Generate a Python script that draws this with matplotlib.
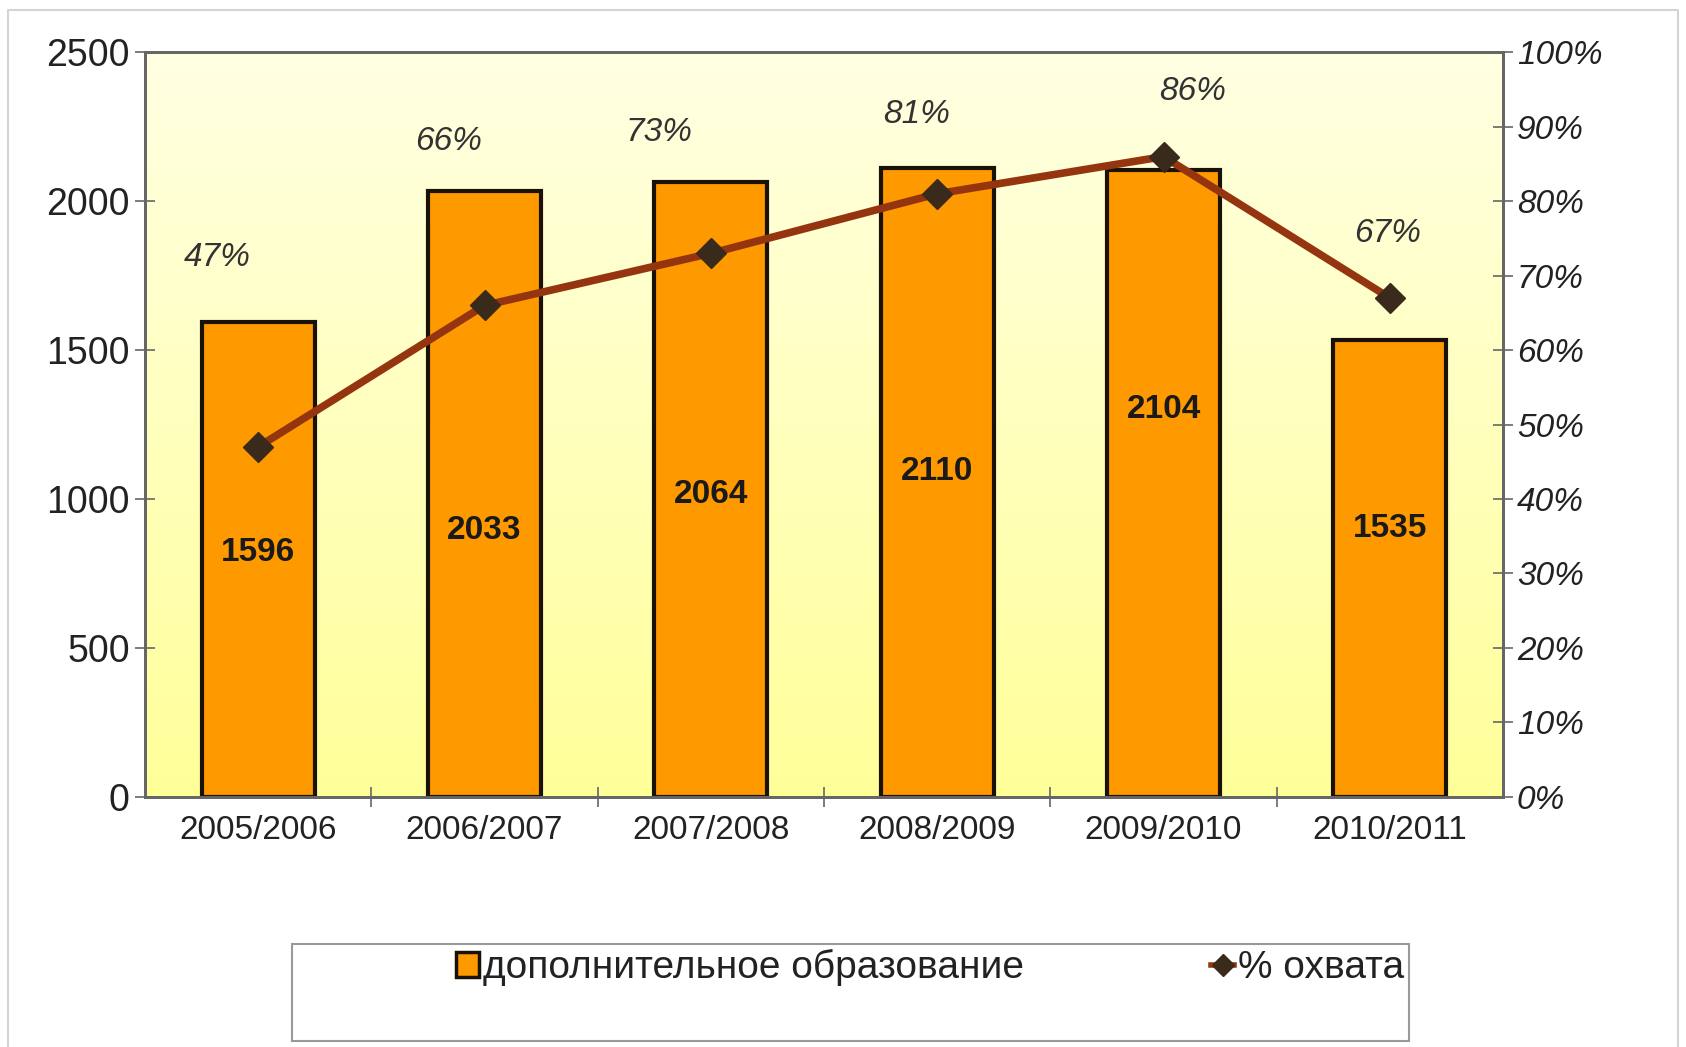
import numpy as np
import matplotlib.pyplot as plt
from matplotlib.patches import Rectangle
from matplotlib.lines import Line2D

plt.rcParams['font.family'] = ['Liberation Sans', 'DejaVu Sans']

years = ["2005/2006", "2006/2007", "2007/2008", "2008/2009", "2009/2010", "2010/2011"]
students = [1596, 2033, 2064, 2110, 2104, 1535]
coverage = [47, 66, 73, 81, 86, 67]

# label placement
count_label_y = [820, 893, 1014, 1093, 1299, 902]
pct_label_y = [72.5, 88.0, 89.2, 91.6, 94.7, 75.6]
pct_label_dx = [-0.18, -0.16, -0.23, -0.09, 0.13, -0.01]

bar_color = "#FF9900"
line_color = "#953510"
marker_color = "#3a2a1c"

fig = plt.figure(figsize=(16.86, 10.47), dpi=100)
fig.patch.set_facecolor("white")

# outer frame of the slide chart
fig.add_artist(Line2D([0.005, 0.005, 0.995, 0.995], [0.0, 0.99, 0.99, 0.0],
                      transform=fig.transFigure, color="#d4d4d4", lw=1.5))

ax = fig.add_axes([0.086, 0.239, 0.8055, 0.711])
x = np.arange(len(years))

# gradient plot area
grad = np.linspace(0, 1, 256).reshape(-1, 1)
top = np.array([1.0, 1.0, 0.89])
bottom = np.array([1.0, 1.0, 0.60])
img = top * (1 - grad[..., None]) + bottom * grad[..., None]
ax.imshow(img, extent=[-0.5, 5.5, 0, 2500], aspect="auto", zorder=0, origin="upper")

ax.bar(x, students, width=0.5, color=bar_color, edgecolor="#1a1208", linewidth=3, zorder=2)
for xi, v, ly in zip(x, students, count_label_y):
    ax.text(xi, ly, str(v), ha="center", va="center", fontsize=24, fontweight="bold",
            color="#1a1a1a", zorder=3)

ax.set_xlim(-0.5, 5.5)
ax.set_ylim(0, 2500)
ax.set_yticks(range(0, 2501, 500))
ax.set_xticks(x)
ax.set_xticklabels(years)
ax.set_xticks(np.arange(0.5, 5.5, 1), minor=True)
ax.tick_params(axis="x", which="major", length=0, labelsize=24, pad=13, colors="#222222")
ax.tick_params(axis="x", which="minor", length=14, direction="inout", color="#666666", width=1.2)
ax.tick_params(axis="y", length=14, direction="inout", labelsize=27, pad=4,
               color="#666666", width=1.2, labelcolor="#222222")
for s in ax.spines.values():
    s.set_color("#666666")
    s.set_linewidth(2)

ax2 = ax.twinx()
ax2.plot(x, coverage, color=line_color, lw=5.5, marker="D", markersize=15,
         markerfacecolor=marker_color, markeredgecolor=marker_color, zorder=5)
for xi, p, ly, dx in zip(x, coverage, pct_label_y, pct_label_dx):
    ax2.text(xi + dx, ly, f"{p}%", ha="center", va="center", fontsize=24,
             style="italic", color="#333333")
ax2.set_ylim(0, 100)
ax2.set_yticks(range(0, 101, 10))
ax2.set_yticklabels([f"{v}%" for v in range(0, 101, 10)], style="italic")
ax2.tick_params(axis="y", length=14, direction="inout", labelsize=24, pad=3,
                color="#666666", width=1.2, labelcolor="#222222")
for s in ax2.spines.values():
    s.set_color("#666666")
    s.set_linewidth(2)

# legend box
fig.add_artist(Rectangle((0.173, 0.006), 0.6625, 0.092, transform=fig.transFigure,
                         facecolor="white", edgecolor="#999999", lw=1.5))
handles = [
    Rectangle((0, 0), 1, 1, facecolor=bar_color, edgecolor="#1a1208", lw=2.5),
    Line2D([], [], color=line_color, lw=4, marker="D", markersize=11,
           markerfacecolor=marker_color, markeredgecolor=marker_color),
]
fig.legend(handles, ["дополнительное образование", "% охвата"], ncol=2,
           loc="center left", bbox_to_anchor=(0.259, 0.076), frameon=False,
           fontsize=28, handlelength=0.6, handletextpad=0.1, columnspacing=4.8,
           handleheight=0.6, labelcolor="#222222", borderpad=0)

plt.savefig("out.png", dpi=100)
